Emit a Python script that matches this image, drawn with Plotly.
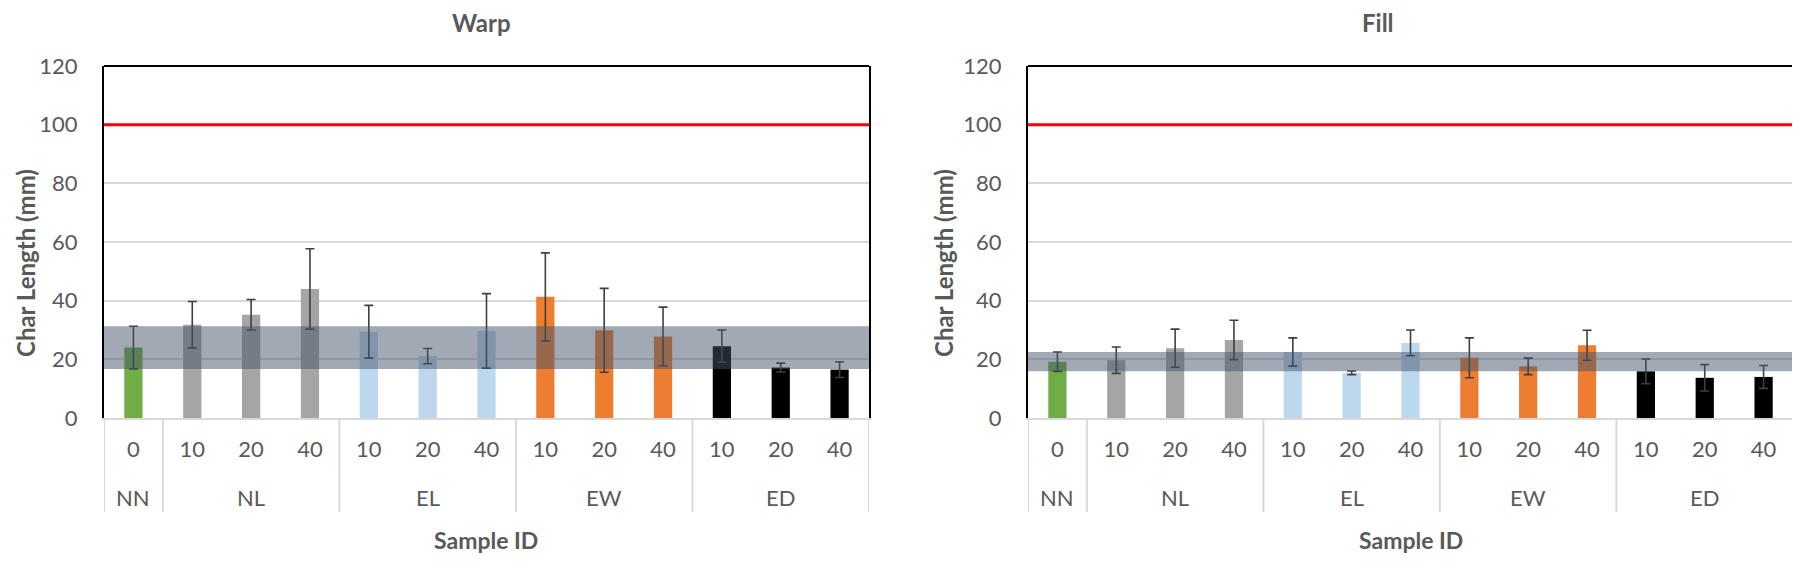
import plotly.graph_objects as go

# ---------------- data ----------------
groups = ["NN", "NL", "NL", "NL", "EL", "EL", "EL", "EW", "EW", "EW", "ED", "ED", "ED"]
doses = ["0", "10", "20", "40", "10", "20", "40", "10", "20", "40", "10", "20", "40"]

warp_mean = [24.0, 31.8, 35.2, 44.0, 29.4, 21.1, 29.7, 41.3, 29.9, 27.8, 24.5, 17.2, 16.5]
warp_sd = [7.3, 7.9, 5.2, 13.7, 9.0, 2.6, 12.7, 15.0, 14.3, 10.0, 5.5, 1.5, 2.7]

fill_mean = [19.2, 19.7, 23.8, 26.6, 22.5, 15.4, 25.6, 20.5, 17.6, 24.8, 15.9, 13.7, 14.0]
fill_sd = [3.3, 4.5, 6.5, 6.7, 4.8, 0.6, 4.4, 6.8, 2.8, 5.1, 4.2, 4.5, 3.9]

panel_titles = ["Warp", "Fill"]
y_title = "Char Length (mm)"
x_title = "Sample ID"
limit_value = 100
y_ticks = [0, 20, 40, 60, 80, 100, 120]

group_colors = {"NN": "#70AD47", "NL": "#A5A5A5", "EL": "#BDD7EE",
                "EW": "#ED7D31", "ED": "#000000"}

# ---------------- layout helpers ----------------
W, H = 1800, 561
OFF = 8  # page body margin
def px_x(p):
    return (p - OFF) / W
def px_y(p):
    return 1 - (p - OFF) / H

panels = [
    dict(mean=warp_mean, sd=warp_sd, x0=104, x1=869, title_x=482, ytitle_x=25),
    dict(mean=fill_mean, sd=fill_sd, x0=1028, x1=1793, title_x=1378, ytitle_x=943),
]
plot_top, plot_bottom, cat_bottom = 66, 418, 512
grp_row_y, xtitle_y, title_y, ytitle_y = 497, 540, 23, 263

cats = [f"{g} {d}" for g, d in zip(groups, doses)]
n = len(cats)
colors = [group_colors[g] for g in groups]

fig = go.Figure()
layout = dict(template="none", width=W, height=H, autosize=False,
              margin=dict(l=0, r=0, t=0, b=0, pad=0, autoexpand=False),
              plot_bgcolor="white", paper_bgcolor="white", showlegend=False,
              bargap=0.69, font=dict(family="Lato, Open Sans, sans-serif", color="#595959"))
shapes, annotations = [], []

text_col = "#595959"
for k, p in enumerate(panels):
    xa = "x" if k == 0 else f"x{k+1}"
    ya = "y" if k == 0 else f"y{k+1}"
    fig.add_trace(go.Bar(
        x=cats, y=p["mean"], xaxis=xa, yaxis=ya,
        marker=dict(color=colors, line=dict(width=0)),
        error_y=dict(type="data", array=p["sd"], visible=True,
                     color="#404040", thickness=1.6, width=4.5),
    ))
    xkey = "xaxis" if k == 0 else f"xaxis{k+1}"
    ykey = "yaxis" if k == 0 else f"yaxis{k+1}"
    layout[xkey] = dict(domain=[px_x(p["x0"]), px_x(p["x1"])], anchor=ya,
                        type="category", categoryorder="array", categoryarray=cats,
                        range=[-0.5, n - 0.5], tickvals=cats, ticktext=doses,
                        showline=True, linecolor="#D9D9D9", linewidth=2,
                        ticks="", ticklabelstandoff=11, automargin=False,
                        tickfont=dict(size=22, color=text_col), showgrid=False,
                        zeroline=False, fixedrange=True)
    layout[ykey] = dict(domain=[px_y(plot_bottom), px_y(plot_top)], anchor=xa,
                        range=[0, 120], tickvals=y_ticks, automargin=False,
                        showline=True, linecolor="black", linewidth=2, mirror=True,
                        showgrid=True, gridcolor="#D9D9D9", gridwidth=1.5,
                        zeroline=False, ticks="", ticklabelstandoff=20,
                        tickfont=dict(size=22, color=text_col))
    # top frame line
    shapes.append(dict(type="line", xref=f"{xa} domain", yref=f"{ya} domain",
                       x0=0, x1=1, y0=1, y1=1, line=dict(color="black", width=2),
                       layer="above"))
    # limit line
    shapes.append(dict(type="line", xref=f"{xa} domain", yref=ya,
                       x0=0, x1=1, y0=limit_value, y1=limit_value,
                       line=dict(color="#FF0000", width=3), layer="above"))
    # control band: NN mean +/- sd
    m0, s0 = p["mean"][0], p["sd"][0]
    shapes.append(dict(type="rect", xref=f"{xa} domain", yref=ya,
                       x0=0, x1=1, y0=m0 - s0, y1=m0 + s0,
                       fillcolor="rgba(68,84,106,0.5)", line=dict(width=0),
                       layer="above"))
    # group dividers
    bounds = [-0.5] + [i - 0.5 for i in range(1, n) if groups[i] != groups[i - 1]] + [n - 0.5]
    for b in bounds:
        shapes.append(dict(type="line", xref=xa, yref="paper",
                           x0=b, x1=b, y0=px_y(plot_bottom), y1=px_y(cat_bottom),
                           line=dict(color="#D9D9D9", width=2)))
    # group labels
    for a, b in zip(bounds[:-1], bounds[1:]):
        g = groups[int(a + 0.5)]
        annotations.append(dict(x=(a + b) / 2, xref=xa, y=px_y(grp_row_y), yref="paper",
                                text=g, showarrow=False, xanchor="center", yanchor="middle",
                                font=dict(size=22, color=text_col)))
    # titles
    annotations.append(dict(x=px_x(p["title_x"]), y=px_y(title_y), xref="paper", yref="paper",
                            text=f"<b>{panel_titles[k]}</b>", showarrow=False,
                            xanchor="center", yanchor="middle",
                            font=dict(size=24, color=text_col)))
    annotations.append(dict(x=px_x((p["x0"] + p["x1"]) / 2), y=px_y(xtitle_y),
                            xref="paper", yref="paper", text=f"<b>{x_title}</b>",
                            xanchor="center", yanchor="middle",
                            showarrow=False, font=dict(size=23, color=text_col)))
    annotations.append(dict(x=px_x(p["ytitle_x"]), y=px_y(ytitle_y), xref="paper", yref="paper",
                            text=f"<b>{y_title}</b>", textangle=-90, showarrow=False,
                            xanchor="center", yanchor="middle",
                            font=dict(size=24, color=text_col)))

layout["shapes"] = shapes
layout["annotations"] = annotations
fig.update_layout(**layout)
fig.write_html("out.html")
